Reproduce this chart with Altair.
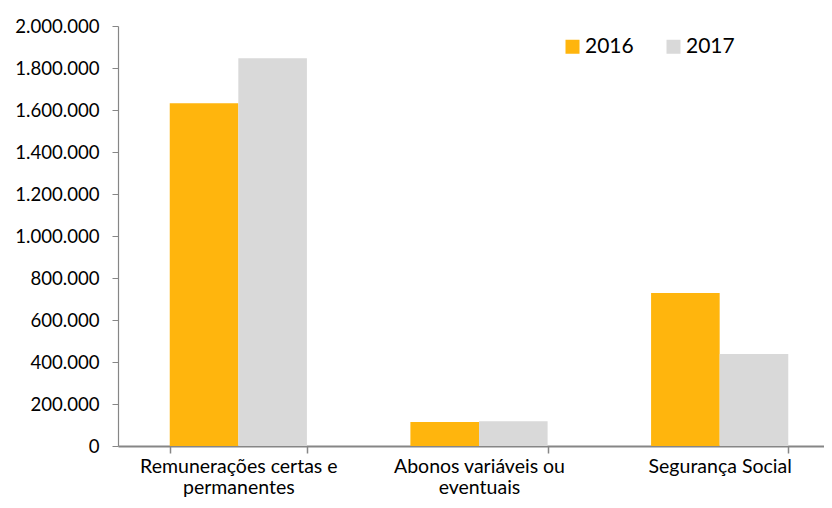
import json
import altair as alt
import pandas as pd

categories = ["Remunerações certas e permanentes", "Abonos variáveis ou eventuais", "Segurança Social"]
label_lines = [["Remunerações certas e", "permanentes"], ["Abonos variáveis ou", "eventuais"], ["Segurança Social"]]
years = ["2016", "2017"]
values_2016 = [1632000, 114000, 728000]
values_2017 = [1846000, 118000, 438000]
colors = ["#FFB50D", "#D9D9D9"]
y_ticks = [0, 200000, 400000, 600000, 800000, 1000000, 1200000, 1400000, 1600000, 1800000, 2000000]

rows = []
for c, a, b in zip(categories, values_2016, values_2017):
    rows.append({"cat": c, "year": years[0], "value": a})
    rows.append({"cat": c, "year": years[1], "value": b})
df = pd.DataFrame(rows)

expr = "datum.label"
for c, lines in reversed(list(zip(categories, label_lines))):
    expr = f"datum.label == {json.dumps(c)} ? {json.dumps(lines)} : ({expr})"

FONT = "Lato"

chart = alt.Chart(df).mark_bar().encode(
    x=alt.X("cat:N", sort=categories,
            scale=alt.Scale(range=[0, 722], paddingInner=0.43, paddingOuter=0.215),
            axis=alt.Axis(title=None, labelAngle=0, tickBand="extent", labelExpr=expr,
                          labelFont=FONT, labelFontSize=19.5, labelColor="#000000",
                          labelLineHeight=21, labelPadding=4, tickSize=7, labelLimit=0,
                          tickColor="#868686", domainColor="#868686", domainWidth=2,
                          tickWidth=1.5, labelBaseline="top")),
    xOffset=alt.XOffset("year:N", sort=years),
    y=alt.Y("value:Q", scale=alt.Scale(domain=[0, 2000000], nice=False),
            axis=alt.Axis(title=None, values=y_ticks, grid=False,
                          labelExpr="replace(format(datum.value, ','), /,/g, '.')",
                          labelFont=FONT, labelFontSize=18.6, labelColor="#000000",
                          labelPadding=13, tickSize=6, tickColor="#868686",
                          domainColor="#868686", domainWidth=1.2)),
    color=alt.Color("year:N", sort=years,
                    scale=alt.Scale(domain=years, range=colors),
                    legend=alt.Legend(title=None, orient="none", legendX=444, legendY=10,
                                      direction="horizontal", symbolType="square",
                                      symbolSize=196, symbolStrokeWidth=0,
                                      labelFont=FONT, labelFontSize=21, labelColor="#000000",
                                      columnPadding=29, labelOffset=2)),
).properties(
    width=706, height=420,
    padding={"left": 110, "top": 18, "right": 0, "bottom": 54},
    autosize="none",
).configure_view(stroke=None)

chart.save("out.html", embed_options={"renderer": "svg", "actions": False})
